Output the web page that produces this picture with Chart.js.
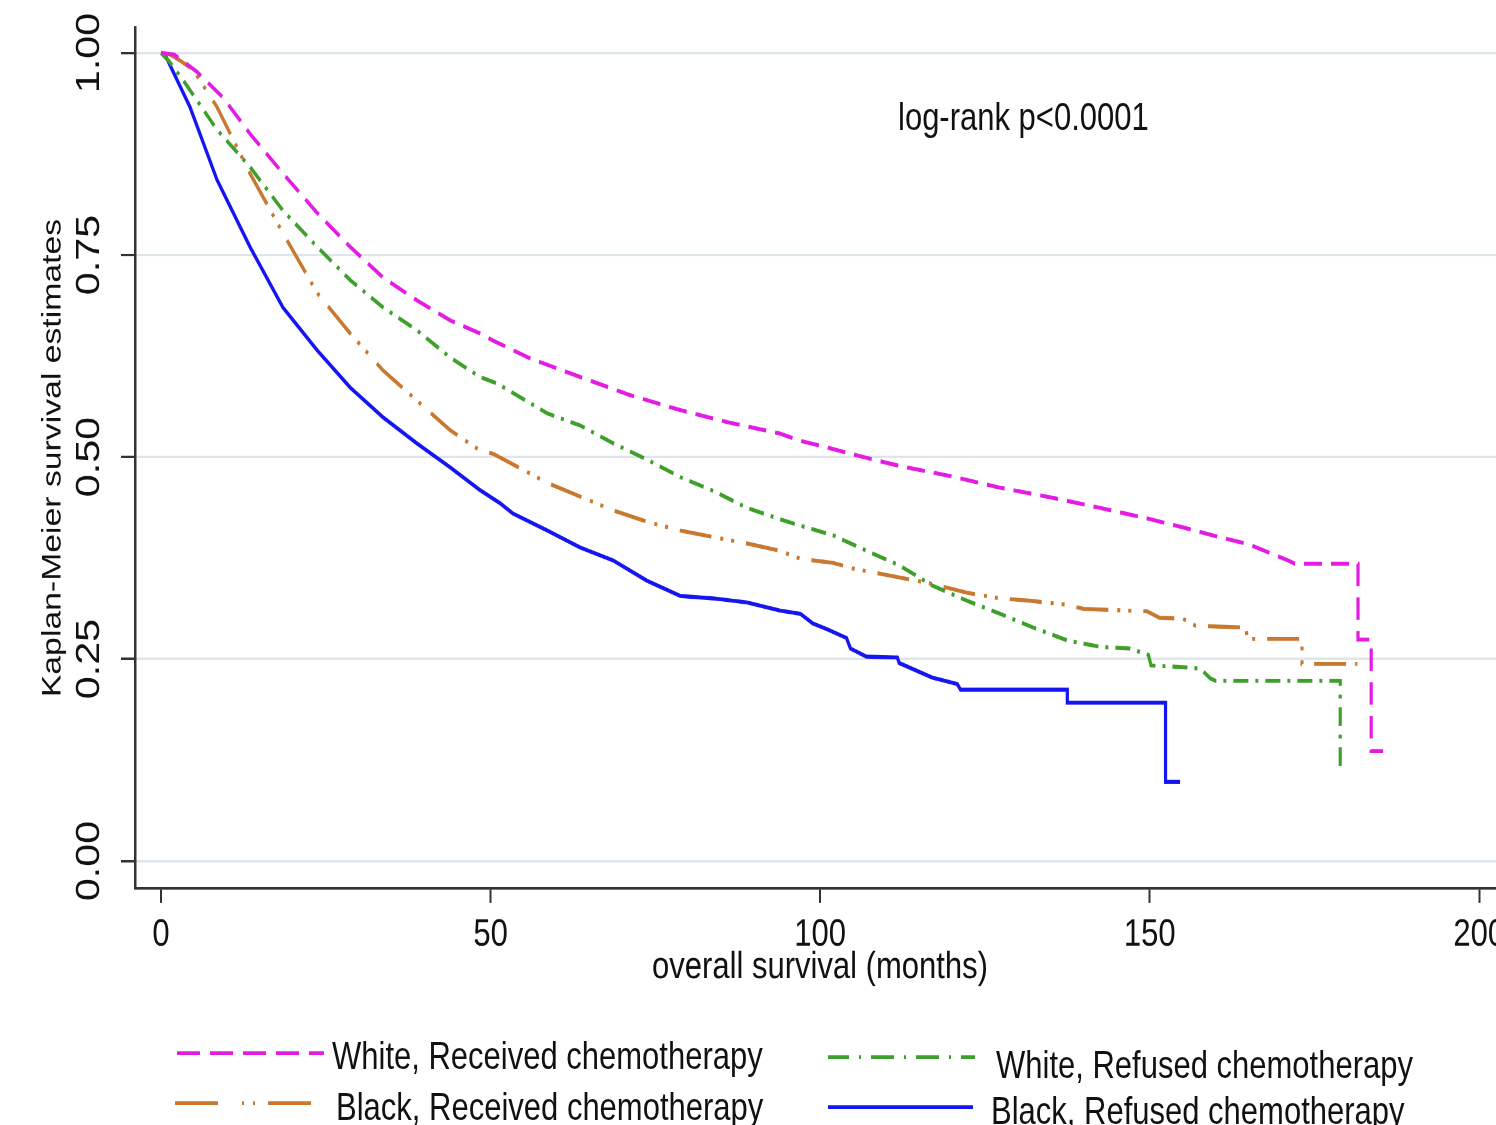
<!DOCTYPE html>
<html>
<head>
<meta charset="utf-8">
<script src="https://cdn.jsdelivr.net/npm/chart.js@4.4.1/dist/chart.umd.min.js"></script>
<style>
html,body{margin:0;padding:0;background:#fff;overflow:hidden;width:1496px;height:1125px;}
#wrap{position:absolute;left:0;top:0;width:1520px;height:900px;transform:scaleY(1.25);transform-origin:0 0;font-family:'Liberation Sans',Arial,sans-serif;color:#111;}
#c{position:absolute;left:0;top:0;}
.txt{position:absolute;font-size:31px;line-height:31px;white-space:nowrap;}
#leg{position:absolute;left:0;top:0;}
</style>
</head>
<body>
<div id="wrap">
<canvas id="c" width="1520" height="800"></canvas>
<svg id="leg" width="1520" height="900"></svg>
</div>
<script>
// ---- data ----
const seriesNames = ['White, Received chemotherapy','Black, Received chemotherapy','White, Refused chemotherapy','Black, Refused chemotherapy'];

const whiteRecMonths = [0, 2, 5.4, 9.4, 13.5, 18.5, 23.7, 28.7, 33.7, 38.8, 43.9, 48.4, 50.4, 56, 63.6, 71, 78.8, 86, 93.9, 97, 101, 107, 112, 120, 127.3, 135, 142.5, 149.6, 155, 160, 165, 168, 171, 172, 181.6, 181.6, 183.6, 183.6, 185.4];
const whiteRecSurv   = [1, 0.998, 0.977, 0.945, 0.9, 0.851, 0.802, 0.76, 0.722, 0.694, 0.669, 0.653, 0.644, 0.622, 0.599, 0.577, 0.558, 0.543, 0.529, 0.52, 0.512, 0.499, 0.489, 0.476, 0.462, 0.45, 0.437, 0.424, 0.413, 0.402, 0.392, 0.382, 0.372, 0.368, 0.368, 0.274, 0.274, 0.136, 0.136];

const blackRecMonths = [0, 1.4, 3, 4.9, 8.5, 13.5, 18.5, 23.7, 28.7, 33.7, 38.8, 43.9, 48.4, 50.4, 58.6, 63.6, 68.6, 73.7, 78.8, 83.8, 88.9, 93.9, 97, 102, 105, 112, 117, 122.3, 127.3, 132, 137.5, 140, 149.6, 151.5, 155, 157, 164.6, 164.8, 173.1, 173.1, 181.5];
const blackRecSurv   = [1, 0.998, 0.99, 0.979, 0.933, 0.851, 0.777, 0.703, 0.653, 0.607, 0.57, 0.533, 0.508, 0.504, 0.468, 0.451, 0.434, 0.42, 0.409, 0.401, 0.393, 0.384, 0.374, 0.369, 0.362, 0.351, 0.343, 0.332, 0.325, 0.322, 0.317, 0.312, 0.309, 0.301, 0.3, 0.291, 0.289, 0.275, 0.275, 0.244, 0.244];

const whiteRefMonths = [0, 1.2, 3.3, 8.5, 13.5, 18.5, 23.7, 28.7, 33.7, 38.8, 43.9, 48.4, 51, 58.6, 63.6, 68.6, 73.7, 78.8, 83.8, 88.9, 93.9, 97, 102, 107, 112, 117, 122.3, 127.3, 132.3, 137.5, 142.5, 147, 149.8, 150.2, 155, 157.7, 159.2, 160, 178.9, 178.9, 179.3];
const whiteRefSurv   = [1, 0.99, 0.967, 0.905, 0.859, 0.805, 0.76, 0.719, 0.685, 0.657, 0.623, 0.599, 0.591, 0.554, 0.539, 0.517, 0.497, 0.475, 0.458, 0.437, 0.423, 0.415, 0.403, 0.384, 0.366, 0.341, 0.322, 0.306, 0.289, 0.273, 0.265, 0.263, 0.255, 0.242, 0.24, 0.238, 0.226, 0.223, 0.223, 0.115, 0.115];

const blackRefMonths = [0, 0.6, 4.4, 8.5, 13.5, 18.5, 23.7, 28.7, 33.7, 38.8, 43.9, 48.4, 51.4, 53.4, 58.6, 63.6, 68.6, 73.7, 78.8, 83.8, 88.9, 93.9, 97, 98.9, 101, 104, 104.6, 107, 111.7, 112, 117, 120.8, 121.3, 137.5, 137.5, 152.4, 152.4, 154.6];
const blackRefSurv   = [1, 0.998, 0.933, 0.843, 0.76, 0.685, 0.632, 0.586, 0.549, 0.517, 0.487, 0.459, 0.443, 0.43, 0.409, 0.388, 0.372, 0.347, 0.328, 0.325, 0.32, 0.31, 0.306, 0.294, 0.287, 0.276, 0.263, 0.253, 0.252, 0.245, 0.227, 0.219, 0.212, 0.212, 0.196, 0.196, 0.098, 0.098];

const xTicks = [0, 50, 100, 150, 200];
const yTicks = [0, 0.25, 0.5, 0.75, 1];
const xTitle = 'overall survival (months)';
const yTitle = 'Kaplan-Meier survival estimates';
const annotationText = 'log-rank p<0.0001';

// ---- styles / layout (kept separate from data) ----
const styles = [
  {color:'#e31be3', dash:[18,9], legendDash:'23 10', line:{x1:177,x2:324,y:842.4}, text:{left:332,top:828.8}},
  {color:'#c8782f', dash:[32,9,3,8,3,12], legendDash:'43 24 2 9 2 13', line:{x1:175,x2:313,y:882.4}, text:{left:336,top:870}},
  {color:'#3e9f2a', dash:[15,7,3,7], legendDash:'23 10 2 10', legendOffset:2, line:{x1:828,x2:975,y:845.6}, text:{left:996,top:836}},
  {color:'#1515f2', dash:[], legendDash:'', line:{x1:828,x2:973,y:885.6}, text:{left:991,top:872.8}}
];
const FONT = "'Liberation Sans', Arial, sans-serif";
Chart.defaults.font.family = FONT;
Chart.defaults.color = '#111';

const series = [
  {m: whiteRecMonths, v: whiteRecSurv},
  {m: blackRecMonths, v: blackRecSurv},
  {m: whiteRefMonths, v: whiteRefSurv},
  {m: blackRefMonths, v: blackRefSurv}
];
const toPts = (m, v) => m.map((x, i) => ({x: x, y: v[i]}));

new Chart(document.getElementById('c'), {
  type: 'line',
  data: {
    datasets: series.map((s, i) => ({
      label: seriesNames[i],
      data: toPts(s.m, s.v),
      borderColor: styles[i].color,
      backgroundColor: styles[i].color,
      borderWidth: 3.2,
      borderDash: styles[i].dash,
      pointRadius: 0,
      tension: 0,
      fill: false
    }))
  },
  options: {
    responsive: false,
    animation: false,
    devicePixelRatio: 2,
    layout: {padding: {top: 22.4, right: 15, bottom: 0, left: 0}},
    plugins: {legend: {display: false}, tooltip: {enabled: false}},
    scales: {
      x: {
        type: 'linear', min: -3.945, max: 203.9,
        afterBuildTicks: sc => { sc.ticks = xTicks.map(v => ({value: v})); },
        afterFit: sc => { sc.height = 89.6; sc.paddingLeft = 0; sc.paddingRight = 0; },
        grid: {display: true, drawOnChartArea: false, drawTicks: true, tickLength: 12, tickColor: '#333', tickWidth: 2},
        border: {display: true, color: '#333', width: 2.2},
        ticks: {font: {size: 31}, color: '#111', padding: 7, maxRotation: 0, autoSkip: false},
        title: {display: true, text: xTitle, font: {size: 31}, color: '#111', padding: {top: 0, bottom: 7.4}}
      },
      y: {
        type: 'linear', min: -0.0334, max: 1.0309,
        afterBuildTicks: sc => { sc.ticks = yTicks.map(v => ({value: v})); },
        afterFit: sc => { sc.width = 135; sc.paddingTop = 0; sc.paddingBottom = 0; },
        grid: {color: '#dde7eb', lineWidth: 2, tickColor: '#333', tickWidth: 2, tickLength: 14},
        border: {display: true, color: '#333', width: 2.5},
        ticks: {font: {size: 33}, color: '#111', padding: -1, minRotation: 90, maxRotation: 90, crossAlign: 'center', autoSkip: false,
                callback: v => Number(v).toFixed(2)},
        title: {display: true, text: yTitle, font: {size: 27}, color: '#111', padding: {top: 37, bottom: 0}}
      }
    }
  }
});

// ---- legend & annotation (HTML/SVG) ----
const wrap = document.getElementById('wrap');
const svg = document.getElementById('leg');
const NS = 'http://www.w3.org/2000/svg';
styles.forEach((st, i) => {
  const ln = document.createElementNS(NS, 'line');
  ln.setAttribute('x1', st.line.x1); ln.setAttribute('x2', st.line.x2);
  ln.setAttribute('y1', st.line.y); ln.setAttribute('y2', st.line.y);
  ln.setAttribute('stroke', st.color); ln.setAttribute('stroke-width', '3');
  if (st.legendDash) ln.setAttribute('stroke-dasharray', st.legendDash);
  if (st.legendOffset) ln.setAttribute('stroke-dashoffset', st.legendOffset);
  svg.appendChild(ln);
  const d = document.createElement('div');
  d.className = 'txt';
  d.style.left = st.text.left + 'px';
  d.style.top = st.text.top + 'px';
  d.textContent = seriesNames[i];
  wrap.appendChild(d);
});
const ann = document.createElement('div');
ann.className = 'txt';
ann.style.left = '898px';
ann.style.top = '78px';
ann.textContent = annotationText;
wrap.appendChild(ann);
</script>
</body>
</html>
